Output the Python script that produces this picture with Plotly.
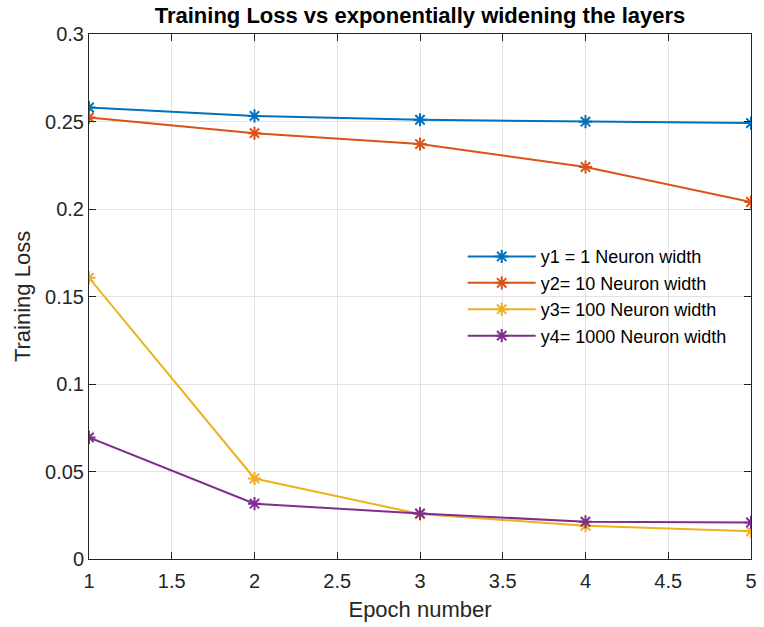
import plotly.graph_objects as go

# Training loss per epoch for four layer widths
epochs = [1, 2, 3, 4, 5]
loss_w1 = [0.2580, 0.2532, 0.2510, 0.2499, 0.2491]
loss_w10 = [0.2523, 0.2433, 0.2371, 0.2240, 0.2040]
loss_w100 = [0.1607, 0.0460, 0.0257, 0.0190, 0.0158]
loss_w1000 = [0.0695, 0.0316, 0.0260, 0.0213, 0.0209]

series_names = [
    "y1 = 1 Neuron width",
    "y2= 10 Neuron width",
    "y3= 100 Neuron width",
    "y4= 1000 Neuron width",
]
series_colors = ["#0072BD", "#D95319", "#EDB120", "#7E2F8E"]

x_ticks = [1, 1.5, 2, 2.5, 3, 3.5, 4, 4.5, 5]
x_tick_labels = ["1", "1.5", "2", "2.5", "3", "3.5", "4", "4.5", "5"]
y_ticks = [0, 0.05, 0.1, 0.15, 0.2, 0.25, 0.3]
y_tick_labels = ["0", "0.05", "0.1", "0.15", "0.2", "0.25", "0.3"]

FONT = "Liberation Sans, Arial, Helvetica, sans-serif"
AXIS_COLOR = "#262626"
GRID_COLOR = "#e2e2e2"

fig = go.Figure()
for name, color, values in zip(
    series_names, series_colors, [loss_w1, loss_w10, loss_w100, loss_w1000]
):
    fig.add_trace(
        go.Scatter(
            x=epochs,
            y=values,
            name=name,
            mode="lines+markers",
            line=dict(color=color, width=2),
            marker=dict(
                symbol="asterisk-open",
                size=11,
                color=color,
                line=dict(color=color, width=2),
            ),
        )
    )

axis_common = dict(
    showline=True,
    linecolor=AXIS_COLOR,
    linewidth=1,
    mirror="ticks",
    ticks="inside",
    ticklen=7,
    tickwidth=1,
    tickcolor=AXIS_COLOR,
    showgrid=True,
    gridcolor=GRID_COLOR,
    gridwidth=1,
    zeroline=False,
    tickfont=dict(family=FONT, size=20, color=AXIS_COLOR),
)

fig.update_xaxes(
    range=[1, 5],
    tickmode="array",
    tickvals=x_ticks,
    ticktext=x_tick_labels,
    ticklabelstandoff=4,
    title=dict(
        text="Epoch number",
        font=dict(family=FONT, size=22, color=AXIS_COLOR),
        standoff=10,
    ),
    **axis_common,
)
fig.update_yaxes(
    range=[0, 0.3],
    tickmode="array",
    tickvals=y_ticks,
    ticktext=y_tick_labels,
    title=dict(
        text="Training Loss",
        font=dict(family=FONT, size=22, color=AXIS_COLOR),
        standoff=8,
    ),
    **axis_common,
)

fig.update_layout(
    width=764,
    height=627,
    margin=dict(l=89, r=7, t=34, b=68),
    paper_bgcolor="white",
    plot_bgcolor="white",
    title=dict(
        text="<b>Training Loss vs exponentially widening the layers</b>",
        font=dict(family=FONT, size=22, color="#000000"),
        x=0.5,
        xref="paper",
        xanchor="center",
        y=1 - 15 / 627,
        yref="container",
        yanchor="middle",
    ),
    legend=dict(
        x=0.5645,
        y=0.611,
        xanchor="left",
        yanchor="top",
        bgcolor="rgba(0,0,0,0)",
        borderwidth=0,
        itemwidth=68,
        font=dict(family=FONT, size=18, color="#000000"),
    ),
    showlegend=True,
)

fig.write_html("out.html")
